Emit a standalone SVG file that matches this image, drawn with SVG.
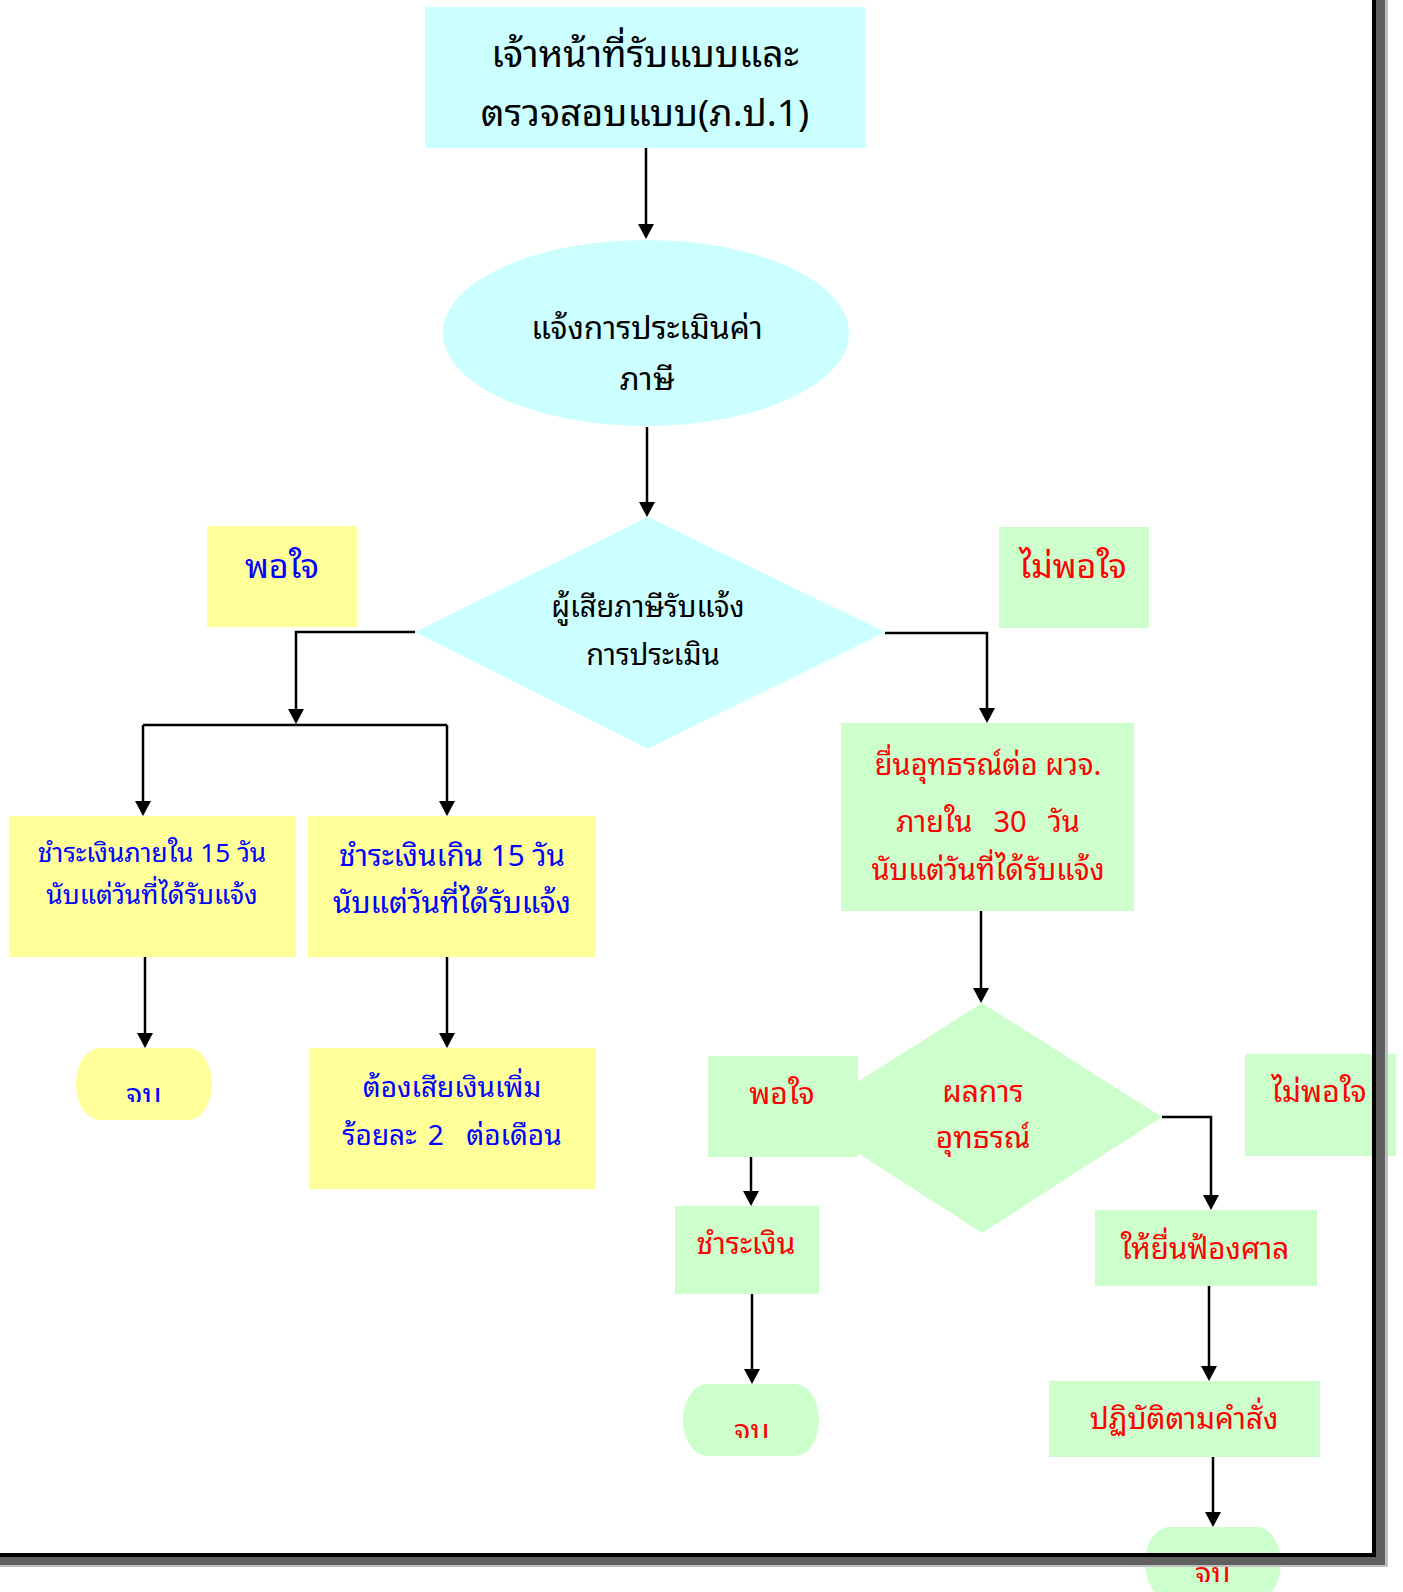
<svg xmlns="http://www.w3.org/2000/svg" width="1403" height="1592" viewBox="0 0 1403 1592">
<style>
text{font-family:"Noto Sans Thai Looped","Waree","Loma","Garuda","Noto Sans Thai","Noto Sans","DejaVu Sans",sans-serif;text-anchor:middle}
.k{fill:#000}.b{fill:#0000ff}.r{fill:#ff0000}
.cy{fill:#ccffff}.ye{fill:#ffff99}.gr{fill:#ccffcc}
.ln{fill:none;stroke:#000;stroke-width:2.5}
.ar{fill:none;stroke:#000;stroke-width:2.5;marker-end:url(#ah)}
</style>
<defs>
<marker id="ah" viewBox="0 0 15 16" markerWidth="15" markerHeight="16" refX="7" refY="8" orient="auto" markerUnits="userSpaceOnUse"><path d="M0,0 L15,8 L0,16 z" fill="#000"/></marker>
<clipPath id="c1"><rect x="60" y="1040" width="170" height="62"/></clipPath>
<clipPath id="c2"><rect x="670" y="1376" width="170" height="62"/></clipPath>
<clipPath id="c3"><rect x="1130" y="1519" width="170" height="63"/></clipPath>
</defs>
<rect width="1403" height="1592" fill="#fff"/>

<g id="n-officer"><rect class="cy" x="425" y="7" width="440" height="141"/><text class="k" x="645" y="67" font-size="37.3">เจ้าหน้าที่รับแบบและ</text><text class="k" x="645" y="126" font-size="37.3">ตรวจสอบแบบ(ภ.ป.1)</text></g>
<g id="n-notify"><ellipse class="cy" cx="646" cy="333" rx="203" ry="93"/><text class="k" x="647" y="339" font-size="31.7">แจ้งการประเมินค่า</text><text class="k" x="647" y="390" font-size="31.7">ภาษี</text></g>
<g id="n-decide1"><polygon class="cy" points="648,517 885,632 648,749 415,632"/><text class="k" x="648" y="617" font-size="29">ผู้เสียภาษีรับแจ้ง</text><text class="k" x="653" y="665" font-size="29">การประเมิน</text></g>
<g id="n-ok1"><rect class="ye" x="207" y="526" width="150" height="101"/><text class="b" x="282" y="578" font-size="34">พอใจ</text></g>
<g id="n-notok1"><rect class="gr" x="999" y="527" width="150" height="101"/><text class="r" x="1073" y="578" font-size="34">ไม่พอใจ</text></g>
<g id="n-pay15"><rect class="ye" x="9" y="816" width="287" height="141"/><text class="b" x="152" y="862" font-size="26.3">ชำระเงินภายใน 15 วัน</text><text class="b" x="152" y="904" font-size="26.3">นับแต่วันที่ได้รับแจ้ง</text></g>
<g id="n-payover"><rect class="ye" x="308" y="816" width="288" height="141"/><text class="b" x="452" y="866" font-size="29.6">ชำระเงินเกิน 15 วัน</text><text class="b" x="452" y="913" font-size="29.6">นับแต่วันที่ได้รับแจ้ง</text></g>
<g id="n-end1"><rect class="ye" x="76" y="1048" width="136" height="72" rx="24" ry="36"/><text class="b" x="144" y="1105" font-size="30" clip-path="url(#c1)">จบ</text></g>
<g id="n-surcharge"><rect class="ye" x="309" y="1048" width="287" height="141"/><text class="b" x="452" y="1097" font-size="28">ต้องเสียเงินเพิ่ม</text><text class="b" x="452" y="1145" font-size="28" word-spacing="4" xml:space="preserve">ร้อยละ 2  ต่อเดือน</text></g>
<g id="n-appeal"><rect class="gr" x="841" y="723" width="293" height="188"/><text class="r" x="988" y="775" font-size="29">ยื่นอุทธรณ์ต่อ ผวจ.</text><text class="r" x="988" y="832" font-size="29" word-spacing="3" xml:space="preserve">ภายใน  30  วัน</text><text class="r" x="988" y="880" font-size="29">นับแต่วันที่ได้รับแจ้ง</text></g>
<g id="n-decide2"><polygon class="gr" points="982,1003 1162,1117 982,1233 802,1117"/><text class="r" x="983" y="1102" font-size="30">ผลการ</text><text class="r" x="983" y="1148" font-size="30">อุทธรณ์</text></g>
<g id="n-ok2"><rect class="gr" x="708" y="1056" width="150" height="101"/><text class="r" x="782" y="1104" font-size="30">พอใจ</text></g>
<g id="n-notok2"><rect class="gr" x="1245" y="1054" width="151" height="102"/><text class="r" x="1319" y="1102" font-size="30">ไม่พอใจ</text></g>
<g id="n-pay"><rect class="gr" x="675" y="1206" width="144" height="88"/><text class="r" x="746" y="1254" font-size="30">ชำระเงิน</text></g>
<g id="n-end2"><rect class="gr" x="683" y="1384" width="136" height="72" rx="24" ry="36"/><text class="r" x="752" y="1441" font-size="30" clip-path="url(#c2)">จบ</text></g>
<g id="n-court"><rect class="gr" x="1095" y="1210" width="222" height="76"/><text class="r" x="1205" y="1259" font-size="29.6">ให้ยื่นฟ้องศาล</text></g>
<g id="n-comply"><rect class="gr" x="1049" y="1381" width="271" height="76"/><text class="r" x="1184" y="1429" font-size="29.6">ปฏิบัติตามคำสั่ง</text></g>
<g id="n-end3"><rect class="gr" x="1145" y="1527" width="136" height="72" rx="24" ry="36"/><text class="r" x="1213" y="1584" font-size="30" clip-path="url(#c3)">จบ</text></g>

<g id="connectors">
<path class="ar" d="M646,148 V231"/>
<path class="ar" d="M647,427 V509"/>
<path class="ar" d="M415,632 H296 V716"/>
<path class="ln" d="M143,725 H447"/>
<path class="ar" d="M143,725 V808"/>
<path class="ar" d="M447,725 V808"/>
<path class="ar" d="M885,633 H987 V715"/>
<path class="ar" d="M145,957 V1040"/>
<path class="ar" d="M447,957 V1040"/>
<path class="ar" d="M981,911 V995"/>
<path class="ar" d="M751,1157 V1198"/>
<path class="ar" d="M752,1294 V1376"/>
<path class="ar" d="M1162,1117 H1211 V1202"/>
<path class="ar" d="M1209,1286 V1373"/>
<path class="ar" d="M1213,1457 V1519"/>
</g>

<g id="frame">
<rect x="1385" y="0" width="3" height="1567" fill="#c0c0c0"/>
<rect x="0" y="1565" width="1388" height="2" fill="#c0c0c0"/>
<rect x="1376" y="0" width="9" height="1565" fill="#606060"/>
<rect x="0" y="1557" width="1385" height="8" fill="#606060"/>
<rect x="1372" y="0" width="4" height="1557" fill="#000"/>
<rect x="0" y="1553" width="1376" height="4" fill="#000"/>
</g>
</svg>
